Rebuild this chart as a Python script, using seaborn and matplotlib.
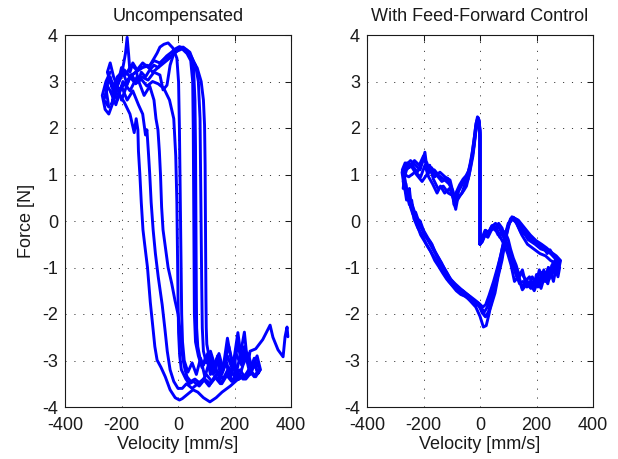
import matplotlib
matplotlib.use('Agg')
import matplotlib.pyplot as plt
import numpy as np
import pandas as pd
import seaborn as sns

sns.set_theme(style='white')
plt.rcParams['font.family'] = ['Liberation Sans', 'DejaVu Sans']
plt.rcParams['lines.scale_dashes'] = False
plt.rcParams['axes.unicode_minus'] = False

TITLES = ['Uncompensated', 'With Feed-Forward Control']
X_LABEL = 'Velocity [mm/s]'
Y_LABEL = 'Force [N]'
X_TICKS = [-400, -200, 0, 200, 400]
Y_TICKS = [-4, -3, -2, -1, 0, 1, 2, 3, 4]

# ---- Uncompensated: (velocity mm/s, force N), one list per cycle ----
UNC_A = [(-230, 2.7), (-250, 2.9), (-262, 2.6), (-245, 2.45), (-255, 2.85), (-240, 3.1), (-225, 2.8),
         (-210, 3.0), (-195, 3.2), (-180, 2.95), (-165, 3.15), (-150, 3.0), (-128, 3.1), (-106, 3.03),
         (-85, 3.2), (-64, 3.14), (-53, 2.82), (-39, 2.92), (-28, 3.35), (-11, 3.68), (18, 3.74),
         (42, 3.63), (55, 3.42), (68, 3.29), (82, 3.0), (90, 2.6), (94, 2.06), (96, 1.2), (97, 0.2),
         (98, -0.8), (99, -1.7), (100, -2.3), (102, -2.65), (108, -2.85), (118, -3.0), (130, -3.25),
         (142, -2.95), (155, -3.3), (170, -3.05), (185, -3.35), (200, -3.0), (215, -3.4), (230, -3.1),
         (248, -2.85), (262, -3.15), (280, -2.9), (292, -3.2), (270, -3.0), (250, -3.25), (230, -3.35),
         (209, -3.42), (185, -3.55), (156, -3.68), (135, -3.8), (113, -3.89), (90, -3.8), (70, -3.68),
         (53, -3.63), (35, -3.72), (15, -3.82), (5, -3.85), (-10, -3.8), (-28, -3.63), (-45, -3.35),
         (-60, -3.15), (-74, -2.99), (-82, -2.7), (-88, -2.34), (-98, -1.75), (-108, -1.0), (-118, -0.5),
         (-124, -0.19), (-130, 0.4), (-135, 1.0), (-140, 1.5), (-142, 1.96), (-148, 2.2), (-155, 1.9),
         (-170, 2.3), (-190, 2.55), (-210, 2.75), (-230, 2.7)]
UNC_B = [(-240, 3.0), (-225, 2.75), (-235, 2.5), (-218, 2.85), (-205, 3.05), (-190, 3.25), (-170, 3.1),
         (-150, 3.2), (-130, 3.3), (-110, 3.35), (-90, 3.2), (-70, 3.3), (-50, 3.4), (-30, 3.5),
         (-10, 3.62), (10, 3.72), (30, 3.68), (45, 3.55), (55, 3.3), (60, 2.6), (62, 1.6), (63, 0.5),
         (64, -0.6), (65, -1.6), (66, -2.3), (70, -2.7), (78, -2.95), (90, -3.1), (105, -2.85),
         (120, -3.2), (138, -2.95), (150, -3.3), (165, -3.0), (180, -2.7), (195, -3.1), (212, -2.4),
         (225, -3.0), (240, -2.8), (255, -3.2), (270, -2.95), (280, -3.25), (270, -3.35), (250, -3.2),
         (230, -3.4), (210, -3.25), (190, -3.45), (170, -3.3), (150, -3.5), (130, -3.35), (110, -3.55),
         (90, -3.4), (70, -3.5), (50, -3.6), (30, -3.5), (15, -3.6), (0, -3.6), (-15, -3.45),
         (-28, -3.2), (-38, -2.8), (-46, -2.34), (-56, -1.8), (-70, -1.2), (-80, -0.7), (-88, -0.19),
         (-95, 0.4), (-100, 1.0), (-105, 1.5), (-110, 1.96), (-115, 1.85), (-125, 2.3), (-140, 2.5),
         (-160, 2.8), (-180, 2.6), (-200, 2.9), (-220, 2.5), (-240, 2.8)]
UNC_C = [(-235, 2.9), (-250, 3.2), (-240, 3.4), (-228, 3.1), (-215, 2.9), (-200, 3.3), (-185, 3.15),
         (-165, 3.35), (-145, 3.25), (-125, 3.4), (-105, 3.3), (-85, 3.45), (-65, 3.4), (-45, 3.5),
         (-25, 3.55), (-5, 3.65), (15, 3.7), (32, 3.6), (45, 3.45), (52, 3.0), (54, 2.0), (55, 1.0),
         (56, 0.0), (57, -1.0), (58, -2.0), (62, -2.6), (72, -2.9), (85, -3.15), (100, -2.9),
         (115, -3.3), (130, -3.1), (148, -3.4), (160, -3.15), (175, -2.52), (190, -3.05), (205, -3.3),
         (220, -2.9), (235, -2.39), (245, -3.0), (258, -3.2), (270, -3.0), (260, -3.25), (240, -3.4),
         (220, -3.2), (200, -3.35), (180, -3.15), (160, -3.4), (140, -3.25), (120, -3.45), (100, -3.3),
         (80, -3.5), (60, -3.4), (45, -3.45), (32, -3.35), (25, -3.2), (18, -2.99), (12, -2.7),
         (7, -2.34), (0, -2.0), (-11, -1.7), (-22, -1.35), (-35, -1.0), (-45, -0.55), (-53, -0.19),
         (-58, 0.3), (-62, 1.0), (-66, 1.5), (-71, 1.96), (-78, 2.2), (-85, 2.6), (-100, 2.9),
         (-120, 2.7), (-145, 3.1), (-170, 2.8), (-195, 3.0), (-215, 2.6), (-235, 2.9)]
UNC_D = [(-240, 3.2), (-255, 3.0), (-268, 2.7), (-258, 2.4), (-245, 2.3), (-230, 2.55), (-215, 2.9),
         (-200, 2.6), (-185, 2.85), (-170, 3.1), (-150, 3.2), (-125, 3.3), (-99, 3.35), (-74, 3.61),
         (-64, 3.74), (-50, 3.8), (-35, 3.83), (-18, 3.72), (-4, 3.5), (2, 2.99), (5, 2.0), (7, 1.0),
         (9, 0.0), (11, -1.0), (13, -2.0), (16, -2.6), (22, -3.0), (35, -3.25), (50, -3.05), (65, -3.3),
         (80, -2.95), (95, -3.35), (110, -3.05), (125, -3.3), (140, -2.9), (156, -3.2), (170, -3.0),
         (185, -3.35), (200, -3.1), (212, -2.6), (225, -3.1), (240, -2.9), (255, -3.3), (270, -3.1),
         (285, -3.27), (290, -3.2), (275, -3.35), (255, -3.2), (235, -3.4), (215, -3.3), (195, -3.45),
         (175, -3.3), (155, -3.5), (135, -3.35), (115, -3.5), (95, -3.4), (75, -3.55), (55, -3.45),
         (40, -3.5), (28, -3.4), (20, -3.3), (12, -3.2), (6, -2.9), (2, -2.4), (0, -1.6), (-2, -0.6),
         (-4, 0.4), (-8, 1.4), (-15, 2.2), (-30, 2.6), (-50, 2.85), (-70, 2.95), (-90, 3.0),
         (-110, 2.9), (-130, 3.05), (-150, 2.95), (-170, 3.1), (-195, 2.9), (-215, 2.8), (-235, 3.0)]
UNC_E = [(-230, 2.8), (-215, 3.1), (-198, 3.2), (-186, 3.6), (-180, 3.95), (-175, 3.6), (-170, 3.2),
         (-160, 3.4), (-150, 3.3), (-140, 3.0), (-130, 3.2), (-115, 3.1), (-100, 3.25), (-85, 3.35),
         (-70, 3.3), (-55, 3.45), (-40, 3.55), (-25, 3.62), (-10, 3.7), (5, 3.75), (20, 3.72),
         (35, 3.65), (50, 3.5), (62, 3.35), (72, 3.0), (78, 2.2), (80, 1.0), (82, -0.2), (84, -1.4),
         (86, -2.3), (90, -2.8), (100, -3.05), (115, -2.8), (130, -3.1), (145, -2.85), (160, -3.2),
         (175, -2.9), (190, -3.15), (205, -2.85), (220, -3.05), (235, -2.7), (250, -3.0), (255, -2.8),
         (275, -2.75), (300, -2.55), (326, -2.24), (336, -2.5), (354, -2.77), (372, -2.92),
         (379, -2.49), (386, -2.28), (389, -2.49)]

# ---- With feed-forward control ----
FF_A = [(0, -0.5), (0, 0.3), (0, 1.2), (0, 1.9), (-3, 2.15), (-8, 2.22), (-14, 2.1), (-20, 1.8),
        (-28, 1.46), (-36, 1.2), (-46, 0.95), (-58, 0.85), (-71, 0.73), (-81, 0.6), (-88, 0.3),
        (-95, 0.6), (-106, 0.88), (-124, 0.95), (-142, 1.05), (-160, 0.95), (-175, 1.1), (-188, 1.16),
        (-200, 1.4), (-215, 1.2), (-232, 1.3), (-250, 1.15), (-265, 1.25), (-275, 1.1), (-268, 0.9),
        (-272, 0.7), (-262, 0.8), (-258, 0.5), (-250, 0.6), (-245, 0.3), (-240, 0.35), (-232, 0.2),
        (-222, 0.05), (-212, 0.0), (-200, -0.2), (-184, -0.37), (-170, -0.5), (-159, -0.67),
        (-146, -0.8), (-134, -0.95), (-122, -1.1), (-113, -1.23), (-95, -1.35), (-78, -1.44),
        (-60, -1.5), (-42, -1.59), (-25, -1.7), (-7, -1.76), (8, -1.9), (18, -2.05), (28, -2.0),
        (38, -1.85), (53, -1.55), (64, -1.2), (78, -0.84), (88, -0.47), (99, -0.13), (113, 0.09),
        (135, 0.02), (152, -0.19), (177, -0.34), (202, -0.47), (223, -0.56), (238, -0.7), (248, -0.62),
        (260, -0.75), (272, -0.8), (283, -0.85), (278, -1.0), (270, -0.9), (262, -1.1), (255, -0.95),
        (248, -1.2), (240, -1.05), (230, -1.25), (220, -1.1), (210, -1.3), (200, -1.15), (190, -1.4),
        (175, -1.2), (160, -1.3), (150, -1.05), (140, -1.2), (128, -0.95), (118, -0.8), (108, -0.6),
        (100, -0.4), (90, -0.25), (78, -0.2), (70, -0.35), (60, -0.2), (50, -0.1), (40, -0.15),
        (28, -0.3), (18, -0.2), (8, -0.35), (0, -0.5)]
FF_B = [(0, -0.45), (0, 0.4), (0, 1.3), (0, 1.95), (-4, 2.18), (-9, 2.24), (-15, 2.05), (-22, 1.7),
        (-30, 1.35), (-40, 1.05), (-50, 0.9), (-62, 0.8), (-75, 0.65), (-85, 0.45), (-92, 0.35),
        (-100, 0.7), (-115, 0.92), (-135, 0.85), (-155, 1.0), (-172, 1.15), (-185, 1.0), (-195, 1.48),
        (-205, 1.25), (-222, 1.05), (-240, 1.2), (-258, 1.25), (-270, 1.0), (-262, 0.75), (-255, 0.55),
        (-250, 0.7), (-245, 0.4), (-238, 0.25), (-230, 0.1), (-222, -0.1), (-210, -0.3), (-195, -0.45),
        (-180, -0.6), (-165, -0.75), (-150, -0.9), (-138, -1.0), (-125, -1.15), (-110, -1.3),
        (-95, -1.4), (-80, -1.48), (-62, -1.58), (-45, -1.65), (-30, -1.75), (-15, -1.85), (0, -2.05),
        (12, -2.28), (22, -2.25), (32, -2.0), (45, -1.6), (58, -1.25), (70, -0.9), (82, -0.55),
        (95, -0.2), (108, 0.05), (125, 0.0), (145, -0.25), (165, -0.3), (190, -0.45), (210, -0.55),
        (232, -0.6), (250, -0.7), (265, -0.8), (280, -0.85), (275, -1.05), (265, -0.85), (252, -1.2),
        (242, -1.0), (230, -1.3), (218, -1.15), (205, -1.42), (192, -1.3), (180, -1.45), (166, -1.35),
        (150, -1.48), (135, -1.2), (122, -1.3), (110, -0.95), (98, -0.7), (85, -0.5), (72, -0.35),
        (58, -0.15), (45, -0.1), (32, -0.25), (20, -0.2), (10, -0.4), (0, -0.5)]
FF_C = [(0, -0.5), (0, 0.5), (0, 1.85), (-3, 2.12), (-7, 2.2), (-12, 2.08), (-18, 1.75), (-25, 1.4),
        (-33, 1.15), (-42, 0.9), (-53, 0.8), (-64, 0.6), (-78, 0.5), (-88, 0.35), (-98, 0.55),
        (-112, 0.6), (-130, 0.75), (-149, 0.7), (-165, 0.9), (-178, 1.2), (-188, 1.0), (-205, 0.85),
        (-225, 1.0), (-245, 1.2), (-260, 1.1), (-272, 0.85), (-265, 0.65), (-260, 0.45), (-252, 0.6),
        (-246, 0.3), (-238, 0.15), (-228, 0.19), (-215, -0.05), (-200, -0.25), (-186, -0.4),
        (-172, -0.55), (-158, -0.7), (-144, -0.88), (-130, -0.98), (-118, -1.1), (-104, -1.25),
        (-88, -1.35), (-70, -1.45), (-52, -1.55), (-35, -1.62), (-18, -1.7), (-2, -1.78), (10, -1.85),
        (20, -1.8), (32, -1.6), (48, -1.3), (62, -1.0), (75, -0.7), (87, -0.35), (100, -0.05),
        (118, 0.08), (132, 0.0), (150, -0.2), (170, -0.4), (195, -0.5), (215, -0.6), (240, -0.65),
        (262, -0.75), (280, -0.9), (272, -0.8), (265, -1.15), (255, -0.95), (245, -1.25), (232, -1.1),
        (220, -1.3), (210, -1.05), (198, -1.35), (185, -1.2), (172, -1.4), (160, -1.25), (145, -1.1),
        (130, -1.2), (115, -0.9), (103, -0.6), (92, -0.45), (80, -0.3), (68, -0.15), (55, -0.05),
        (42, -0.12), (30, -0.25), (18, -0.3), (8, -0.4), (0, -0.45)]
FF_D = [(0, -0.5), (0, 0.6), (0, 1.9), (-2, 2.1), (-6, 2.22), (-11, 2.12), (-17, 1.85), (-24, 1.5),
        (-32, 1.25), (-40, 1.08), (-50, 0.97), (-60, 0.9), (-72, 0.78), (-84, 0.62), (-90, 0.38),
        (-96, 0.65), (-110, 0.8), (-128, 0.9), (-146, 0.98), (-162, 1.1), (-176, 1.05), (-188, 1.25),
        (-200, 1.35), (-212, 1.1), (-228, 1.2), (-246, 1.3), (-262, 1.2), (-276, 1.05), (-270, 0.8),
        (-262, 0.6), (-255, 0.65), (-248, 0.4), (-242, 0.45), (-236, 0.2), (-226, 0.1), (-214, -0.1),
        (-202, -0.2), (-190, -0.35), (-176, -0.45), (-162, -0.62), (-148, -0.78), (-136, -0.9),
        (-124, -1.05), (-110, -1.2), (-96, -1.32), (-82, -1.42), (-66, -1.5), (-50, -1.6),
        (-34, -1.68), (-18, -1.72), (-5, -1.8), (8, -1.98), (20, -2.06), (30, -1.95), (42, -1.7),
        (55, -1.4), (68, -1.05), (80, -0.7), (92, -0.35), (104, -0.05), (118, 0.07), (138, 0.0),
        (158, -0.15), (178, -0.3), (198, -0.42), (218, -0.5), (236, -0.58), (254, -0.68), (270, -0.75),
        (285, -0.85), (280, -1.0), (272, -0.85), (266, -1.1), (258, -0.9), (250, -1.15), (242, -1.0),
        (235, -1.3), (226, -1.05), (218, -1.2), (210, -1.4), (200, -1.25), (188, -1.35), (176, -1.4),
        (164, -1.25), (150, -1.45), (138, -1.2), (126, -1.05), (114, -0.85), (104, -0.65), (95, -0.5),
        (86, -0.3), (78, -0.15), (66, -0.05), (54, -0.2), (42, -0.1), (30, -0.25), (18, -0.3),
        (8, -0.45), (0, -0.5)]
FF_E = [(0, -0.5), (0, 0.5), (0, 1.8), (-4, 2.05), (-9, 2.15), (-15, 1.95), (-22, 1.6), (-30, 1.3),
        (-38, 1.0), (-48, 0.75), (-58, 0.65), (-70, 0.55), (-80, 0.45), (-86, 0.25), (-94, 0.5),
        (-108, 0.7), (-125, 0.6), (-140, 0.75), (-152, 0.6), (-168, 0.8), (-182, 0.95), (-195, 1.2),
        (-210, 0.95), (-230, 1.05), (-252, 0.95), (-268, 1.0), (-262, 0.7), (-256, 0.5), (-250, 0.35),
        (-242, 0.3), (-234, 0.05), (-220, -0.15), (-205, -0.3), (-190, -0.5), (-175, -0.65),
        (-160, -0.85), (-146, -0.98), (-132, -1.12), (-118, -1.25), (-100, -1.38), (-84, -1.5),
        (-68, -1.58), (-52, -1.62), (-36, -1.7), (-20, -1.78), (-6, -1.82), (6, -1.9), (16, -1.95),
        (26, -1.85), (38, -1.6), (52, -1.3), (66, -0.95), (78, -0.6), (90, -0.3), (102, -0.05),
        (115, 0.05), (130, -0.05), (148, -0.3), (168, -0.5), (190, -0.6), (212, -0.7), (232, -0.75),
        (250, -0.85), (266, -0.9), (282, -1.0), (276, -1.2), (268, -1.05), (260, -1.3), (250, -1.1),
        (240, -1.35), (228, -1.2), (216, -1.45), (204, -1.3), (192, -1.5), (178, -1.35), (166, -1.42),
        (152, -1.3), (140, -1.35), (128, -1.15), (118, -0.95), (108, -0.75), (98, -0.55), (88, -0.4),
        (76, -0.25), (64, -0.3), (52, -0.15), (40, -0.2), (28, -0.35), (16, -0.3), (6, -0.45), (0, -0.5)]

UNC_CYCLES = [UNC_A, UNC_B, UNC_C, UNC_D, UNC_E]
FF_CYCLES = [FF_A, FF_B, FF_C, FF_D, FF_E]


def to_frame(cycles):
    rows = []
    for i, cyc in enumerate(cycles):
        for v, f in cyc:
            rows.append((i, v, f))
    return pd.DataFrame(rows, columns=['cycle', 'v', 'F'])


W, H = 618, 459
fig = plt.figure(figsize=(W / 100, H / 100), dpi=100)
ax1 = fig.add_axes([65 / W, (H - 407) / H, 226 / W, 372 / H])
ax2 = fig.add_axes([367 / W, (H - 407) / H, 226 / W, 372 / H])

for ax, cycles, title in [(ax1, UNC_CYCLES, TITLES[0]), (ax2, FF_CYCLES, TITLES[1])]:
    df = to_frame(cycles)
    sns.lineplot(data=df, x='v', y='F', units='cycle', estimator=None, sort=False,
                 color='#0000ff', linewidth=2.1, ax=ax, legend=False)
    ax.set_xlim(-400, 400)
    ax.set_ylim(-4, 4)
    ax.set_xticks(X_TICKS)
    ax.set_yticks(Y_TICKS)
    ax.grid(True, color='k', linestyle=(0, (0.8, 5.6)), linewidth=0.6)
    ax.tick_params(direction='in', top=True, right=True, length=4, width=0.75,
                   labelsize=13, colors='k')
    ax.tick_params(axis='x', pad=7.5)
    ax.tick_params(axis='y', pad=5)
    for s in ax.spines.values():
        s.set_color('k')
        s.set_linewidth(0.8)
        s.set_visible(True)
    ax.set_facecolor('white')
    ax.set_title(title, fontsize=13, pad=10, color='k')
    ax.set_xlabel(X_LABEL, fontsize=13, labelpad=1, color='k')
    ax.set_ylabel('')

ax1.set_ylabel(Y_LABEL, fontsize=13, labelpad=5, color='k')

fig.savefig('out.png', dpi=100, facecolor='white')
